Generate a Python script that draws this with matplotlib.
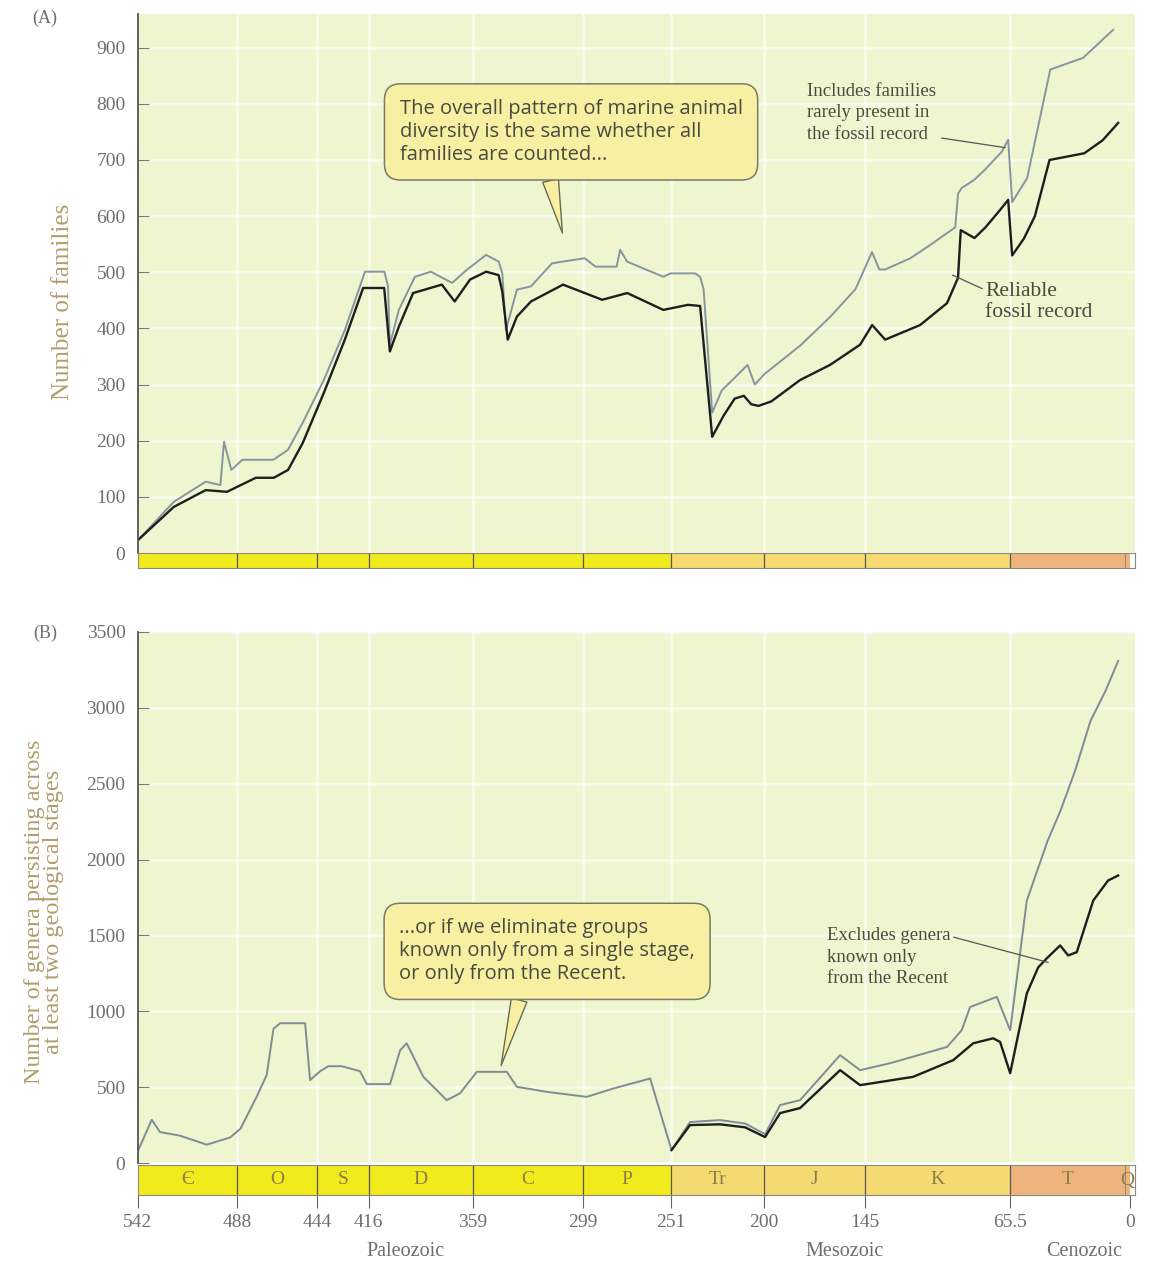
import matplotlib.pyplot as plt

# --- data (ages in Ma) ---
periods = ['Є', 'O', 'S', 'D', 'C', 'P', 'Tr', 'J', 'K', 'T', 'Q']
period_start = [542, 488, 444, 416, 359, 299, 251, 200, 145, 65.5, 2.6]
period_end = [488, 444, 416, 359, 299, 251, 200, 145, 65.5, 2.6, 0]
period_era = ['Paleozoic'] * 6 + ['Mesozoic'] * 3 + ['Cenozoic'] * 2
era_colors = {'Paleozoic': '#f1ea1c', 'Mesozoic': '#f5da72', 'Cenozoic': '#efb47c'}
eras = ['Paleozoic', 'Mesozoic', 'Cenozoic']
era_label_at = [396, 156, 25]
boundary_ages = [542, 488, 444, 416, 359, 299, 251, 200, 145, 65.5, 0]
boundary_labels = ['542', '488', '444', '416', '359', '299', '251', '200', '145', '65.5', '0']

# (A) all families (incl. rarely preserved)
fam_all_age = [542, 522.5, 505, 497, 495, 491, 485, 468, 460, 452, 440.5, 429, 418, 407.4,
               405.4, 404.4, 399.5, 390.7, 382, 370.4, 362.5, 351.8, 345, 343, 341, 335,
               327.3, 315.8, 298, 292, 280.5, 278.6, 274.8, 255, 251, 237.6, 234.9, 233,
               228.3, 223, 216, 209, 205, 200, 180, 164, 150, 141, 137, 133.8, 120, 109,
               95.5, 94, 92, 85, 79.2, 70, 66.6, 64.4, 56.2, 43.6, 25.6, 9.2]
fam_all = [23, 91, 127, 121, 198, 148, 166, 166, 184, 232, 308, 397, 501, 501,
           475, 371, 433, 492, 501, 481, 504, 531, 519, 499, 397, 469,
           475, 516, 525, 510, 510, 540, 519, 492, 498, 498, 492, 470,
           250, 290, 312, 335, 300, 318, 370, 420, 470, 536, 505, 505, 525, 549,
           580, 640, 650, 665, 683, 715, 736, 625, 668, 861, 882, 932]

# (A) reliable fossil record
fam_rel_age = [542, 522.5, 505, 493.4, 477.6, 467.8, 460, 452, 440.5, 429, 419, 407.5,
               404.4, 399.5, 391.7, 376, 369, 360.6, 351.8, 345, 343, 340, 335, 327.3,
               309.8, 288.4, 274.7, 255, 241.5, 234.9, 228.3, 222, 216, 211, 207, 203,
               196, 180.3, 163.9, 147.5, 140.9, 133.8, 114.7, 100, 94, 92.5, 85, 79,
               71, 66.6, 64.4, 58, 52, 44, 25, 15, 6.5]
fam_rel = [23, 82, 112, 109, 134, 134, 148, 196, 285, 380, 472, 472,
           359, 403, 463, 478, 448, 487, 501, 495, 466, 380, 421, 448,
           478, 451, 463, 433, 442, 440, 207, 245, 275, 280, 265, 262,
           270, 308, 335, 371, 406, 380, 406, 445, 490, 575, 561, 580,
           611, 629, 530, 560, 600, 700, 712, 735, 766]

# (B) genera persisting across at least two stages
gen_all_age = [542, 534.5, 530, 519, 504.5, 491.7, 486, 477, 471.7, 468, 464.4, 450.7,
               448, 442.5, 438, 430.7, 420.7, 417, 404.3, 398.8, 395.2, 386.1, 373.3,
               366, 356.9, 340.5, 335, 318.7, 296.8, 282.3, 262.2, 250.5, 240.4, 224,
               210.3, 199.4, 191.2, 180.3, 158.4, 147.5, 131, 100, 92, 87.4, 72.8, 65.5,
               56.4, 45, 38, 30, 21.6, 13.4, 6.5]
gen_all = [80, 285, 204, 180, 121, 168, 226, 441, 579, 884, 921, 921,
           546, 605, 638, 638, 605, 520, 520, 743, 789, 568, 414,
           460, 601, 601, 502, 469, 436, 491, 557, 85, 270, 283,
           260, 190, 382, 414, 711, 612, 658, 765, 875, 1028, 1095, 875,
           1730, 2125, 2322, 2586, 2914, 3112, 3309]

# (B) excluding genera known only from the Recent
gen_excl_age = [250.5, 240.4, 224, 210.3, 199.4, 191.2, 180.3, 158.4, 147.5, 118.5, 96.6,
                85.7, 74.8, 71, 65.5, 56.4, 50.2, 45.5, 38.2, 33.8, 29.1, 20.1, 12, 6.5]
gen_excl = [85, 250, 255, 235, 171, 329, 362, 612, 513, 568, 678,
            789, 822, 798, 592, 1118, 1289, 1349, 1434, 1368, 1390, 1730, 1862, 1895]

W, H = 1165, 1262
fig = plt.figure(figsize=(W / 100, H / 100), dpi=100)

serif = ['Liberation Serif', 'DejaVu Serif']
sans = ['Open Sans', 'DejaVu Sans']
tick_col = '#6e6e6e'
label_col = '#b29d6b'
note_col = '#4a4a40'
bg = '#eef5cf'
gray_line = '#8795a0'
dark_line = '#1e1e1e'
bubble = dict(boxstyle='round,pad=0.75,rounding_size=0.8', fc='#f7f0a2', ec='#7a7a6a', lw=1.1)


def bubble_tail(rx):
    return dict(arrowstyle='wedge,tail_width=0.8,shrink_factor=0.5', relpos=(rx, 0.0),
                fc='#f7f0a2', ec='#6a6a5a', lw=1.0, shrinkA=0)


def fbox(x0, y0, x1, y1):
    # pixel box -> figure fraction [left, bottom, width, height]
    return [x0 / W, 1 - y1 / H, (x1 - x0) / W, (y1 - y0) / H]


def style_main(ax, ymax, yticks):
    ax.set_facecolor(bg)
    ax.set_xlim(542, -2.7)
    ax.set_ylim(0, ymax)
    for s in ['top', 'right', 'bottom']:
        ax.spines[s].set_visible(False)
    ax.spines['left'].set_color('#555555')
    ax.spines['left'].set_linewidth(1.3)
    ax.set_yticks(yticks)
    ax.set_yticklabels([str(v) for v in yticks], family=serif, fontsize=14, color=tick_col)
    ax.tick_params(axis='y', direction='in', length=8, color='#777777', pad=9)
    ax.set_xticks(boundary_ages[1:-1])
    ax.tick_params(axis='x', length=0, labelbottom=False)
    ax.grid(True, color='white', lw=2.0, alpha=0.6)
    ax.set_axisbelow(True)


def period_bar(ax, with_labels):
    ax.set_xlim(542, -2.7)
    ax.set_ylim(0, 1)
    for s0, s1, era, name in zip(period_start, period_end, period_era, periods):
        ax.axvspan(s0, s1, color=era_colors[era], lw=0)
        if with_labels:
            ax.text((s0 + s1) / 2, 0.5, name, ha='center', va='center',
                    family=serif, fontsize=14, color='#8a7d4a')
    for b in boundary_ages[1:-1]:
        ax.axvline(b, color='#555555', lw=0.9)
    ax.axvline(2.6, color='#888888', lw=0.7)
    ax.set_yticks([])
    for s in ax.spines.values():
        s.set_color('#8a8a7a')
        s.set_linewidth(0.8)


# ---------- panel A ----------
axA = fig.add_axes(fbox(138, 14, 1135, 553))
style_main(axA, 960, [0, 100, 200, 300, 400, 500, 600, 700, 800, 900])
axA.plot(fam_all_age, fam_all, color=gray_line, lw=1.4)
axA.plot(fam_rel_age, fam_rel, color=dark_line, lw=1.7)
axA.set_ylabel('Number of families', family=serif, fontsize=18, color=label_col)
axA.yaxis.set_label_coords(-0.064, 0.465)

axA.annotate('The overall pattern of marine animal\ndiversity is the same whether all\nfamilies are counted...',
             xy=(309.8, 565), xytext=(305.4, 750), ha='center', va='center', multialignment='left',
             family=sans, fontsize=14.5, color=note_col, linespacing=1.2,
             bbox=bubble, arrowprops=bubble_tail(0.43))
axA.annotate('Includes families\nrarely present in\nthe fossil record',
             xy=(68.2, 722), xytext=(176.4, 784), ha='left', va='center',
             family=serif, fontsize=13.5, color=note_col, linespacing=1.35,
             arrowprops=dict(arrowstyle='-', color='#555555', lw=0.9,
                             shrinkA=2, shrinkB=0, relpos=(0.98, 0.1)))
axA.annotate('Reliable\nfossil record',
             xy=(97, 495), xytext=(79.2, 447), ha='left', va='center',
             family=serif, fontsize=15.5, color=note_col, linespacing=1.15,
             arrowprops=dict(arrowstyle='-', color='#555555', lw=0.9,
                             shrinkA=0, shrinkB=0, relpos=(0.0, 0.8)))

barA = fig.add_axes(fbox(138, 553, 1135, 568))
period_bar(barA, False)
barA.set_xticks([])

# ---------- panel B ----------
axB = fig.add_axes(fbox(138, 632, 1135, 1163))
style_main(axB, 3500, [0, 500, 1000, 1500, 2000, 2500, 3000, 3500])
axB.plot(gen_all_age, gen_all, color='#7f8c95', lw=1.4)
axB.plot(gen_excl_age, gen_excl, color=dark_line, lw=1.7)
axB.set_ylabel('Number of genera persisting across\nat least two geological stages',
               family=serif, fontsize=17.5, color=label_col, linespacing=0.9)
axB.yaxis.set_label_coords(-0.074, 0.473)

axB.annotate('...or if we eliminate groups\nknown only from a single stage,\nor only from the Recent.',
             xy=(344, 625), xytext=(318.5, 1395), ha='center', va='center', multialignment='left',
             family=sans, fontsize=14.5, color=note_col, linespacing=1.2,
             bbox=bubble, arrowprops=bubble_tail(0.42))
axB.annotate('Excludes genera\nknown only\nfrom the Recent',
             xy=(44.7, 1322), xytext=(165.5, 1355), ha='left', va='center',
             family=serif, fontsize=13.5, color=note_col, linespacing=1.35,
             arrowprops=dict(arrowstyle='-', color='#555555', lw=0.9,
                             shrinkA=0, shrinkB=0, relpos=(1.0, 0.85)))

barB = fig.add_axes(fbox(138, 1165, 1135, 1195))
period_bar(barB, True)
barB.set_xticks(boundary_ages)
barB.set_xticklabels(boundary_labels, family=serif, fontsize=14, color=tick_col)
barB.tick_params(axis='x', direction='out', length=9, color='#666666', pad=5)

for era, at in zip(eras, era_label_at):
    barB.text(at, -1.55, era, ha='center', va='top', family=serif, fontsize=14.5, color=tick_col)

fig.text(45 / W, 1 - 18 / H, '(A)', family=serif, fontsize=13, color=tick_col, ha='center', va='center')
fig.text(45 / W, 1 - 633 / H, '(B)', family=serif, fontsize=13, color=tick_col, ha='center', va='center')

fig.savefig('out.png', dpi=100, facecolor='white')
